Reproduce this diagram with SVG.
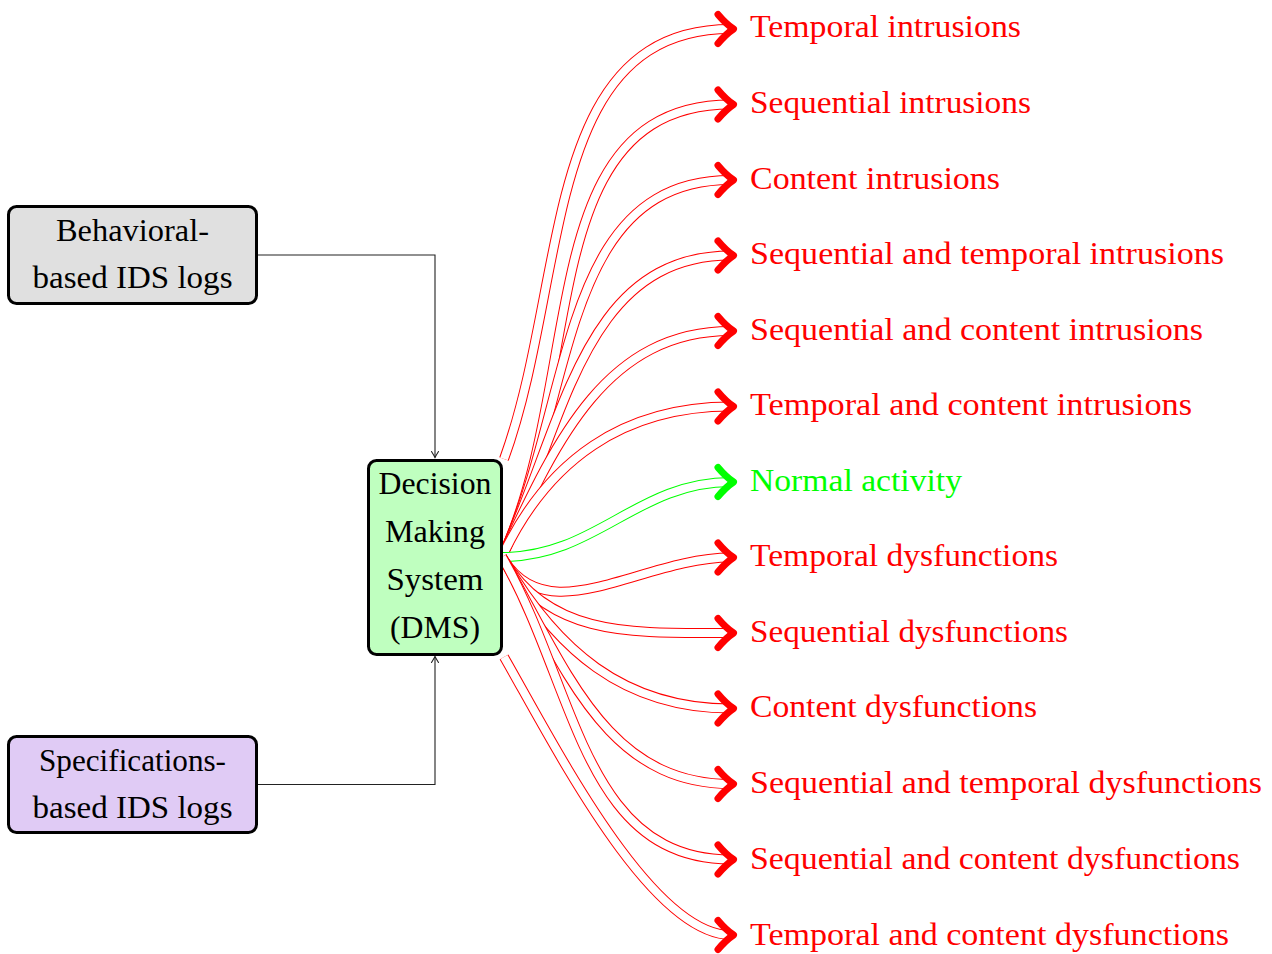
<svg xmlns="http://www.w3.org/2000/svg" width="1272" height="954" viewBox="0 0 1272 954">
<style>
.box{stroke:#000;stroke-width:3}
text{font-family:'Liberation Serif','Times New Roman','DejaVu Serif',serif;font-size:31px}
.t{fill:#000}
.lr{fill:#ff0000}
.lg{fill:#00ff00}
.ro{fill:none;stroke:#ff0000;stroke-width:10}
.go{fill:none;stroke:#00ff00;stroke-width:10}
.in{fill:none;stroke:#ffffff;stroke-width:8}
.ri{marker-end:url(#ar)}
.gi{marker-end:url(#ag)}
.blk{fill:none;stroke:#222;stroke-width:1.1;marker-end:url(#ab)}
</style>
<defs>
<marker id="ar" markerUnits="userSpaceOnUse" orient="auto" overflow="visible" markerWidth="1" markerHeight="1" refX="0" refY="0">
<path d="M -13,-14.5 Q -5,-5 2.5,0 Q -5,5 -13,14.5" fill="none" stroke="#ff0000" stroke-width="7" stroke-linecap="round" stroke-linejoin="round"/>
</marker>
<marker id="ag" markerUnits="userSpaceOnUse" orient="auto" overflow="visible" markerWidth="1" markerHeight="1" refX="0" refY="0">
<path d="M -13,-14.5 Q -5,-5 2.5,0 Q -5,5 -13,14.5" fill="none" stroke="#00ff00" stroke-width="7" stroke-linecap="round" stroke-linejoin="round"/>
</marker>
<marker id="ab" markerUnits="userSpaceOnUse" orient="auto" overflow="visible" markerWidth="1" markerHeight="1" refX="0" refY="0">
<path d="M -6,-3.5 Q -2,-1 0,0 Q -2,1 -6,3.5" fill="none" stroke="#222" stroke-width="1.1" stroke-linecap="round"/>
</marker>
</defs>
<rect width="1272" height="954" fill="#ffffff"/>

<g id="connectors">
<path class="blk" d="M 257,255 H 435 V 457.5"/>
<path class="blk" d="M 257,784.5 H 435 V 656.5"/>

<path class="ro" d="M 504,459 C 569.1,280.1 540.6,29 731,29"/>
<path class="in ri" d="M 504,459 C 569.1,280.1 540.6,29 731,29"/>
<path class="ro" d="M 502,557 C 585.9,377.1 532.5,104.5 731,104.5"/>
<path class="in ri" d="M 502,557 C 585.9,377.1 532.5,104.5 731,104.5"/>
<path class="ro" d="M 502,557 C 575,400.5 558.3,180 731,180"/>
<path class="in ri" d="M 502,557 C 575,400.5 558.3,180 731,180"/>
<path class="ro" d="M 502,557 C 564.6,422.7 582.8,255.5 731,255.5"/>
<path class="in ri" d="M 502,557 C 564.6,422.7 582.8,255.5 731,255.5"/>
<path class="ro" d="M 502,557 C 555.2,442.8 605,331 731,331"/>
<path class="in ri" d="M 502,557 C 555.2,442.8 605,331 731,331"/>
<path class="ro" d="M 502,557 C 547.3,459.8 623.7,406.5 731,406.5"/>
<path class="in ri" d="M 502,557 C 547.3,459.8 623.7,406.5 731,406.5"/>
<path class="go" d="M 502,557 C 596.3,557 636.7,482 731,482"/>
<path class="in gi" d="M 502,557 C 596.3,557 636.7,482 731,482"/>
<path class="ro" d="M 502,557 C 546.8,634.7 641.3,557.5 731,557.5"/>
<path class="in ri" d="M 502,557 C 546.8,634.7 641.3,557.5 731,557.5"/>
<path class="ro" d="M 502,557 C 549.2,638.8 636.5,633 731,633"/>
<path class="in ri" d="M 502,557 C 549.2,638.8 636.5,633 731,633"/>
<path class="ro" d="M 502,557 C 555.8,650.1 623.5,708.5 731,708.5"/>
<path class="in ri" d="M 502,557 C 555.8,650.1 623.5,708.5 731,708.5"/>
<path class="ro" d="M 502,557 C 565.1,666.3 604.8,784 731,784"/>
<path class="in ri" d="M 502,557 C 565.1,666.3 604.8,784 731,784"/>
<path class="ro" d="M 502,557 C 576.3,685.6 582.5,859.5 731,859.5"/>
<path class="in ri" d="M 502,557 C 576.3,685.6 582.5,859.5 731,859.5"/>
<path class="ro" d="M 504,657 C 554,744 650,935 731,935"/>
<path class="in ri" d="M 504,657 C 554,744 650,935 731,935"/>
</g>

<g id="behavioral">
<rect class="box" x="8.5" y="206.5" width="248" height="97" rx="8" fill="#e0e0e0"/>
<text class="t" x="132.5" y="241" text-anchor="middle" textLength="153" lengthAdjust="spacingAndGlyphs">Behavioral-</text>
<text class="t" x="132.5" y="288" text-anchor="middle" textLength="200" lengthAdjust="spacingAndGlyphs">based IDS logs</text>
</g>

<g id="specifications">
<rect class="box" x="8.5" y="736.5" width="248" height="96" rx="8" fill="#e0cbf5"/>
<text class="t" x="132.5" y="770.5" text-anchor="middle" textLength="187" lengthAdjust="spacingAndGlyphs">Specifications-</text>
<text class="t" x="132.5" y="818" text-anchor="middle" textLength="200" lengthAdjust="spacingAndGlyphs">based IDS logs</text>
</g>

<g id="dms">
<rect class="box" x="368.5" y="460.5" width="133" height="194" rx="8" fill="#bfffbf"/>
<text class="t" x="435" y="493.5" text-anchor="middle" textLength="113" lengthAdjust="spacingAndGlyphs">Decision</text>
<text class="t" x="435" y="541.5" text-anchor="middle" textLength="100" lengthAdjust="spacingAndGlyphs">Making</text>
<text class="t" x="435" y="589.5" text-anchor="middle" textLength="97" lengthAdjust="spacingAndGlyphs">System</text>
<text class="t" x="435" y="637.5" text-anchor="middle" textLength="90" lengthAdjust="spacingAndGlyphs">(DMS)</text>
</g>

<g id="label-temporal-intrusions"><text class="lr" x="750" y="37" textLength="271" lengthAdjust="spacingAndGlyphs">Temporal intrusions</text></g>
<g id="label-sequential-intrusions"><text class="lr" x="750" y="112.5" textLength="281" lengthAdjust="spacingAndGlyphs">Sequential intrusions</text></g>
<g id="label-content-intrusions"><text class="lr" x="750" y="188.5" textLength="250" lengthAdjust="spacingAndGlyphs">Content intrusions</text></g>
<g id="label-seq-temp-intrusions"><text class="lr" x="750" y="264" textLength="474" lengthAdjust="spacingAndGlyphs">Sequential and temporal intrusions</text></g>
<g id="label-seq-content-intrusions"><text class="lr" x="750" y="339.5" textLength="453" lengthAdjust="spacingAndGlyphs">Sequential and content intrusions</text></g>
<g id="label-temp-content-intrusions"><text class="lr" x="750" y="415" textLength="442" lengthAdjust="spacingAndGlyphs">Temporal and content intrusions</text></g>
<g id="label-normal-activity"><text class="lg" x="750" y="490.5" textLength="212" lengthAdjust="spacingAndGlyphs">Normal activity</text></g>
<g id="label-temporal-dysfunctions"><text class="lr" x="750" y="566" textLength="308" lengthAdjust="spacingAndGlyphs">Temporal dysfunctions</text></g>
<g id="label-sequential-dysfunctions"><text class="lr" x="750" y="641.5" textLength="318" lengthAdjust="spacingAndGlyphs">Sequential dysfunctions</text></g>
<g id="label-content-dysfunctions"><text class="lr" x="750" y="717" textLength="287" lengthAdjust="spacingAndGlyphs">Content dysfunctions</text></g>
<g id="label-seq-temp-dysfunctions"><text class="lr" x="750" y="793" textLength="512" lengthAdjust="spacingAndGlyphs">Sequential and temporal dysfunctions</text></g>
<g id="label-seq-content-dysfunctions"><text class="lr" x="750" y="868.5" textLength="490" lengthAdjust="spacingAndGlyphs">Sequential and content dysfunctions</text></g>
<g id="label-temp-content-dysfunctions"><text class="lr" x="750" y="944.5" textLength="479" lengthAdjust="spacingAndGlyphs">Temporal and content dysfunctions</text></g>
</svg>
